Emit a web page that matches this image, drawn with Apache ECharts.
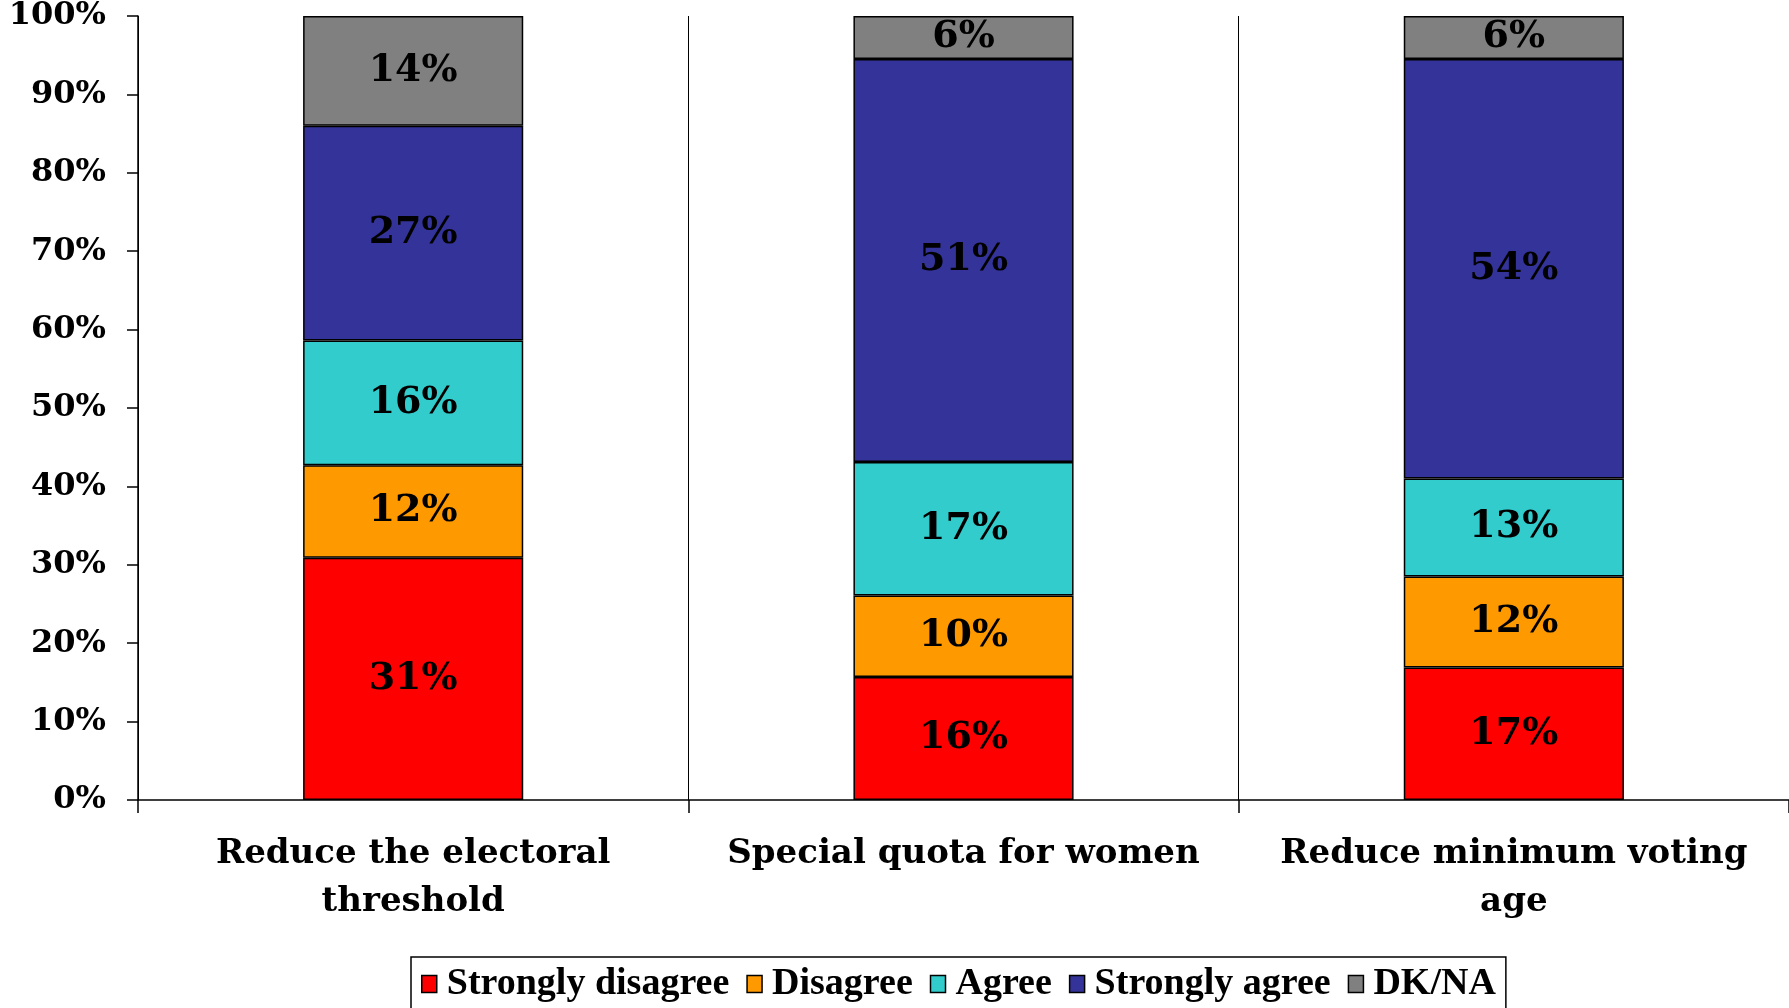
<!DOCTYPE html>
<html>
<head>
<meta charset="utf-8">
<script src="https://cdn.jsdelivr.net/npm/echarts@6/dist/echarts.min.js"></script>
<style>
  html, body { margin: 0; padding: 0; background: #fff; }
  #chart { width: 1789px; height: 1008px; }
</style>
</head>
<body>
<div id="chart"></div>
<script>
// categories on the x axis
const categories = ['Reduce the electoral\nthreshold', 'Special quota for women', 'Reduce minimum voting\nage'];

// shares in percent, bottom to top
const stronglyDisagree = [30.9, 15.7, 16.9];
const disagree = [11.8, 10.4, 11.6];
const agree = [15.9, 17.0, 12.5];
const stronglyAgree = [27.4, 51.4, 53.5];
const dkNa = [14.0, 5.5, 5.5];

const seriesNames = ['Strongly disagree', 'Disagree', 'Agree', 'Strongly agree', 'DK/NA'];
const seriesColors = ['#FF0000', '#FF9900', '#33CCCC', '#333399', '#808080'];
const seriesData = [stronglyDisagree, disagree, agree, stronglyAgree, dkNa];

const WIDE = '"DejaVu Serif", "Liberation Serif", serif';
const NARROW = '"Liberation Serif", "DejaVu Serif", serif';

const chart = echarts.init(document.getElementById('chart'));

const option = {
  backgroundColor: '#fff',
  animation: false,
  textStyle: { fontFamily: WIDE, fontWeight: 'bold', color: '#000' },
  grid: { left: 138, right: -3, top: 16, bottom: 208, containLabel: false },
  legend: {
    left: 411,
    top: 957,
    icon: 'rect',
    itemWidth: 15,
    itemHeight: 17,
    itemGap: 17,
    padding: [8, 10, 8, 10],
    borderColor: '#000',
    borderWidth: 1.5,
    itemStyle: { borderColor: '#000', borderWidth: 1.5 },
    textStyle: { fontFamily: NARROW, fontWeight: 'bold', fontSize: 38, color: '#000', padding: [0, 0, 0, 5] },
    data: seriesNames
  },
  xAxis: {
    type: 'category',
    data: categories,
    axisLine: { lineStyle: { color: '#000', width: 1.5 } },
    axisTick: { show: true, length: 13, lineStyle: { color: '#000', width: 1.5 } },
    splitLine: { show: true, lineStyle: { color: '#000', width: 1 } },
    axisLabel: {
      interval: 0,
      margin: 30,
      fontFamily: WIDE,
      fontWeight: 'bold',
      fontSize: 34,
      lineHeight: 48,
      color: '#000'
    }
  },
  yAxis: {
    type: 'value',
    min: 0,
    max: 100,
    interval: 10,
    axisLine: { show: true, lineStyle: { color: '#000', width: 1.5 } },
    axisTick: { show: true, length: 11, lineStyle: { color: '#000', width: 1.5 } },
    splitLine: { show: false },
    axisLabel: {
      margin: 32,
      fontFamily: WIDE,
      fontWeight: 'bold',
      fontSize: 32,
      color: '#000',
      formatter: '{value}%'
    }
  },
  series: seriesNames.map((name, i) => ({
    name: name,
    type: 'bar',
    stack: 'total',
    barWidth: '40%',
    data: seriesData[i],
    itemStyle: { color: seriesColors[i], borderColor: '#000', borderWidth: 1.5 },
    label: {
      show: true,
      position: 'inside',
      fontFamily: WIDE,
      fontWeight: 'bold',
      fontSize: 38,
      color: '#000',
      formatter: p => Math.round(p.value) + '%'
    }
  }))
};

chart.setOption(option);
</script>
</body>
</html>
